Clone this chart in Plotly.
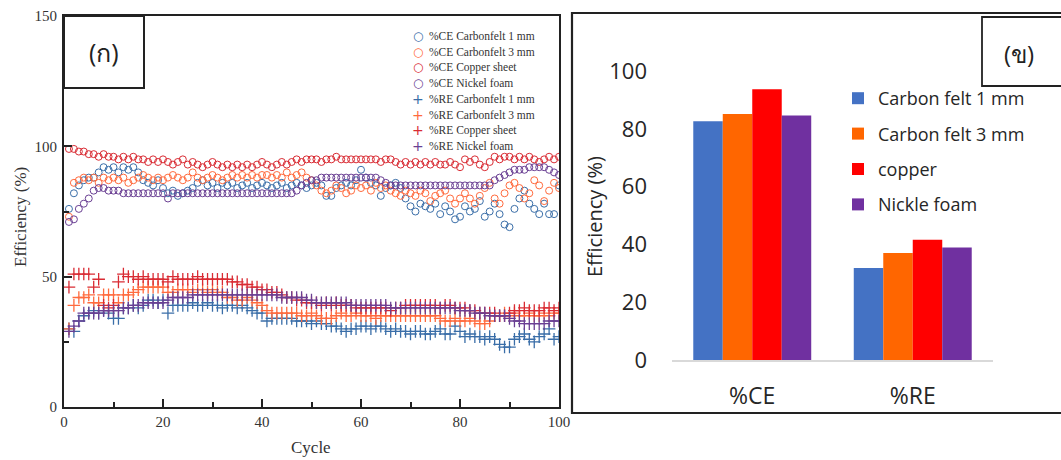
import plotly.graph_objects as go

W, H = 1061, 460

cycles = list(range(1, 101))

ce_cf1 = [76, 82, 85, 87, 88, 88, 90, 92, 91, 92,
          90, 92, 91, 92, 90, 87, 86, 85, 87, 84,
          82, 83, 81, 82, 83, 84, 86, 87, 85, 86,
          84, 86, 85, 86, 84, 85, 86, 84, 85, 86,
          85, 84, 85, 86, 84, 85, 86, 85, 84, 85,
          86, 85, 81, 81, 84, 85, 86, 85, 87, 91,
          88, 86, 85, 81, 84, 85, 86, 84, 80, 77,
          75, 78, 77, 76, 78, 74, 77, 75, 72, 73,
          77, 75, 76, 79, 73, 75, 78, 74, 70, 69,
          76, 80, 83, 78, 76, 74, 78, 74, 74, 85]
ce_cf3 = [73, 86, 87, 88, 87, 88, 86, 88, 87, 88,
          87, 88, 86, 87, 88, 89, 88, 87, 88, 87,
          88, 89, 88, 87, 88, 90, 88, 87, 88, 89,
          88, 87, 88, 89, 88, 89, 88, 89, 88, 89,
          89, 88, 89, 88, 90, 88, 89, 90, 88, 87,
          85, 83, 82, 83, 85, 84, 82, 83, 85, 84,
          85, 83, 86, 84, 85, 83, 82, 81, 83, 82,
          81, 83, 82, 79, 81, 82, 83, 80, 78, 80,
          82, 80, 78, 81, 84, 86, 80, 78, 82, 85,
          86, 84, 80, 82, 87, 85, 79, 83, 86, 84]
ce_cu = [99, 99, 98, 98, 97, 97, 96, 97, 96, 96,
         95, 96, 95, 96, 95, 95, 94, 95, 94, 95,
         94, 93, 94, 95, 93, 94, 93, 92, 93, 94,
         93, 92, 93, 92, 93, 92, 93, 92, 93, 94,
         93, 92, 93, 94, 93, 94, 95, 94, 95, 95,
         95, 94, 95, 95, 96, 95, 95, 95, 95, 95,
         95, 95, 95, 94, 95, 95, 94, 93, 94, 93,
         94, 93, 94, 93, 94, 93, 93, 94, 93, 92,
         95, 94, 95, 93, 92, 94, 96, 95, 96, 96,
         95, 96, 95, 96, 95, 94, 95, 96, 95, 96]
ce_ni = [71, 72, 76, 78, 80, 83, 84, 84, 83, 83,
         83, 82, 82, 82, 82, 82, 82, 82, 82, 82,
         80, 82, 82, 82, 82, 82, 82, 82, 82, 82,
         82, 82, 82, 82, 82, 82, 82, 82, 82, 82,
         82, 82, 82, 82, 82, 82, 83, 85, 86, 87,
         87, 88, 88, 88, 88, 88, 88, 88, 88, 88,
         88, 88, 88, 87, 86, 85, 85, 85, 85, 85,
         85, 85, 85, 85, 85, 85, 85, 85, 85, 85,
         85, 85, 85, 85, 85, 85, 87, 88, 89, 90,
         91, 91, 91, 92, 92, 92, 92, 91, 90, 89]
re_cf1 = [30, 29, 33, 35, 36, 37, 36, 37, 36, 34,
          34, 38, 38, 39, 38, 39, 41, 41, 40, 41,
          36, 39, 39, 39, 39, 40, 39, 39, 40, 39,
          39, 38, 39, 39, 38, 39, 38, 37, 36, 36,
          33, 34, 34, 34, 34, 34, 33, 33, 33, 32,
          33, 32, 32, 31, 31, 30, 29, 30, 30, 31,
          31, 30, 31, 31, 30, 29, 30, 29, 29, 28,
          29, 29, 28, 28, 29, 30, 28, 28, 31, 29,
          27, 28, 27, 27, 26, 27, 26, 24, 23, 23,
          26, 27, 28, 26, 25, 27, 28, 30, 26, 27]
re_cf3 = [30, 39, 42, 42, 43, 40, 40, 43, 43, 43,
          40, 43, 43, 44, 45, 46, 46, 46, 46, 46,
          44, 44, 45, 45, 45, 44, 45, 45, 44, 45,
          44, 44, 42, 42, 41, 41, 42, 41, 40, 39,
          37, 36, 36, 36, 36, 36, 36, 35, 35, 36,
          35, 34, 34, 34, 35, 36, 35, 35, 36, 35,
          35, 35, 34, 35, 35, 35, 35, 35, 35, 35,
          35, 35, 35, 35, 35, 34, 33, 33, 34, 33,
          33, 34, 33, 32, 32, 33, 35, 35, 36, 35,
          36, 35, 35, 36, 35, 35, 36, 35, 36, 36]
re_cu = [46, 51, 51, 51, 51, 46, 49, 39, 38, 39,
         48, 51, 50, 50, 49, 50, 49, 49, 49, 49,
         48, 50, 49, 49, 49, 49, 50, 49, 49, 49,
         49, 49, 49, 48, 48, 47, 47, 46, 46, 45,
         45, 44, 44, 43, 42, 42, 41, 41, 40, 40,
         40, 39, 40, 39, 40, 39, 39, 39, 38, 38,
         38, 38, 38, 38, 38, 37, 38, 38, 39, 39,
         39, 39, 39, 39, 39, 38, 39, 39, 38, 38,
         38, 37, 37, 36, 36, 36, 36, 35, 35, 36,
         37, 37, 38, 37, 37, 37, 38, 38, 37, 38]
re_ni = [29, 31, 33, 36, 36, 36, 36, 37, 37, 37,
         37, 38, 38, 39, 39, 40, 40, 40, 40, 40,
         41, 42, 42, 42, 42, 43, 43, 43, 43, 43,
         43, 43, 43, 43, 43, 43, 43, 43, 43, 43,
         43, 43, 43, 42, 42, 42, 42, 42, 41, 41,
         40, 40, 40, 40, 40, 40, 40, 39, 39, 39,
         39, 39, 39, 39, 39, 38, 38, 38, 38, 38,
         38, 38, 38, 38, 38, 38, 38, 38, 38, 37,
         37, 37, 36, 36, 36, 35, 35, 35, 35, 34,
         33, 33, 32, 32, 32, 32, 32, 33, 33, 33]

line_names = ["%CE Carbonfelt 1 mm", "%CE Carbonfelt 3 mm", "%CE Copper sheet", "%CE Nickel foam",
              "%RE Carbonfelt 1 mm", "%RE Carbonfelt 3 mm", "%RE Copper sheet", "%RE Nickel foam"]
line_series = [ce_cf1, ce_cf3, ce_cu, ce_ni, re_cf1, re_cf3, re_cu, re_ni]

bar_categories = ["%CE", "%RE"]
bar_names = ["Carbon felt 1 mm", "Carbon felt 3 mm", "copper", "Nickle foam"]
bar_values = [[82.6, 31.8], [85.1, 37.0], [93.7, 41.6], [84.6, 38.9]]

sc_colors = ["#3a6ea8", "#ff6a3d", "#d92b33", "#6a3f93"]
bar_colors = ["#4472c4", "#ff6600", "#ff0000", "#7030a0"]


def px(x):
    return x / W


def py(y):
    return 1 - y / H


fig = go.Figure()

for i, (nm, ys) in enumerate(zip(line_names, line_series)):
    is_ce = i < 4
    fig.add_trace(go.Scatter(
        x=cycles, y=ys, mode="markers", name=nm, showlegend=False,
        xaxis="x", yaxis="y",
        marker=dict(symbol="circle-open" if is_ce else "cross-thin-open",
                    size=7 if is_ce else 9,
                    color=sc_colors[i % 4],
                    line=dict(width=1 if is_ce else 1.3, color=sc_colors[i % 4])),
    ))

for j, nm in enumerate(bar_names):
    fig.add_trace(go.Bar(
        x=bar_categories, y=bar_values[j], name=nm, xaxis="x2", yaxis="y2",
        marker=dict(color=bar_colors[j], line=dict(width=0)),
        legendgroup=nm, showlegend=True,
    ))

serif = "Liberation Serif, Times New Roman, serif"
sans = "Open Sans, Noto Sans, sans-serif"

fig.update_layout(
    width=W, height=H, margin=dict(l=0, r=0, t=0, b=0, autoexpand=False),
    paper_bgcolor="white", plot_bgcolor="white",
    barmode="group", bargap=0.265, bargroupgap=0,
    xaxis=dict(domain=[px(64), px(559)], range=[0, 100], dtick=20, tick0=0, automargin=False,
               ticks="inside", ticklen=8, tickwidth=1.5, tickcolor="#222",
               minor=dict(dtick=10, ticks="inside", ticklen=5, tickcolor="#222"),
               showline=True, linecolor="#222", linewidth=1.8, mirror=True,
               showgrid=False, zeroline=False,
               tickfont=dict(family=serif, size=15, color="#333")),
    yaxis=dict(domain=[py(407), py(16)], range=[0, 150], dtick=50, tick0=0, automargin=False,
               ticks="inside", ticklen=8, tickwidth=1.5, tickcolor="#222",
               minor=dict(dtick=25, ticks="inside", ticklen=5, tickcolor="#222"),
               showline=True, linecolor="#222", linewidth=1.8, mirror=True,
               showgrid=False, zeroline=False, ticklabelstandoff=2,
               tickfont=dict(family=serif, size=15, color="#333")),
    xaxis2=dict(domain=[px(672), px(993)], anchor="y2", showgrid=False, zeroline=False,
                automargin=False,
                showline=True, linecolor="#d9d9d9", linewidth=2, ticks="",
                tickfont=dict(family=sans, size=23, color="#262626"), ticklabelstandoff=14),
    yaxis2=dict(domain=[py(360), py(71)], anchor="x2", range=[0, 100], dtick=20,
                automargin=False,
                showgrid=False, zeroline=False, showline=False, ticks="",
                ticklabelstandoff=24,
                tickfont=dict(family=sans, size=22, color="#262626")),
    legend=dict(x=px(838), y=py(80), xanchor="left", yanchor="top",
                bgcolor="rgba(0,0,0,0)", tracegroupgap=9,
                font=dict(family=sans, size=18, color="#262626")),
    showlegend=True,
)


def note(text, x, y, font, angle=0, xanchor="center"):
    return dict(text=text, x=px(x), y=py(y), xref="paper", yref="paper",
                xanchor=xanchor, yanchor="middle", textangle=angle,
                showarrow=False, font=font)


annotations = [
    note("Efficiency (%)", 20, 217, dict(family=serif, size=17, color="#333"), angle=-90),
    note("Cycle", 311, 447, dict(family=serif, size=17, color="#333")),
    note("Efficiency (%)", 594, 217, dict(family=sans, size=20, color="#262626"), angle=-90),
    note("(ก)", 104, 52, dict(family=sans, size=25, color="#222")),
    note("(ข)", 1019, 53, dict(family=sans, size=24, color="#222")),
]
for i, nm in enumerate(line_names):
    yy = 36 + i * 15.7
    sym = "○" if i < 4 else "+"
    annotations.append(note(sym, 418, yy,
                            dict(family="DejaVu Sans", size=12 if i < 4 else 14,
                                 color=sc_colors[i % 4])))
    annotations.append(note(nm, 427, yy, dict(family=serif, size=11.5, color="#333"),
                            xanchor="left"))
fig.update_layout(annotations=annotations)

fig.update_layout(shapes=[
    dict(type="rect", xref="paper", yref="paper", x0=px(64), x1=px(144), y0=py(88), y1=py(16),
         line=dict(color="#222", width=2), fillcolor="white"),
    dict(type="rect", xref="paper", yref="paper", x0=px(572), x1=px(1070), y0=py(413), y1=py(13),
         line=dict(color="#222", width=2.2)),
    dict(type="rect", xref="paper", yref="paper", x0=px(982), x1=px(1070), y0=py(86), y1=py(17),
         line=dict(color="#222", width=1.8), fillcolor="white"),
])

fig.write_html("out.html")
